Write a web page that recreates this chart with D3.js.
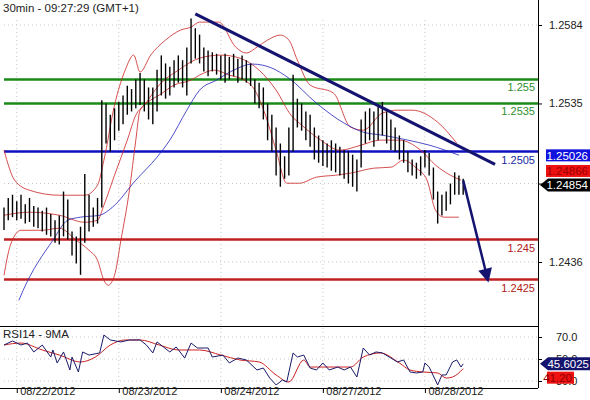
<!DOCTYPE html>
<html>
<head>
<meta charset="utf-8">
<script src="https://cdn.jsdelivr.net/npm/d3@7"></script>
<style>
  body { margin: 0; background: #fff; }
  svg { display: block; font-family: "Liberation Sans", Arial, sans-serif; }
</style>
</head>
<body>
<svg id="chart"></svg>
<script>
// hourly bars, index 0 = first bar on the left
const highs = [1.2470,1.2476,1.2478,1.2474,1.2478,1.2472,1.2476,1.2471,1.2470,1.2468,1.2470,1.2466,1.2462,1.2465,1.2480,1.2475,1.2455,1.2452,1.2458,1.2491,1.2478,1.2470,1.2476,1.2537,1.2535,1.2528,1.2532,1.2536,1.2540,1.2546,1.2544,1.2550,1.2554,1.2550,1.2545,1.2545,1.2556,1.2565,1.2560,1.2558,1.2562,1.2565,1.2562,1.2570,1.2588,1.2582,1.2578,1.2570,1.2568,1.2567,1.2566,1.2565,1.2566,1.2564,1.2566,1.2563,1.2565,1.2562,1.2560,1.2550,1.2548,1.2545,1.2535,1.2528,1.2520,1.2510,1.2502,1.2520,1.2553,1.2538,1.2535,1.2530,1.2528,1.2520,1.2515,1.2512,1.2510,1.2512,1.2510,1.2508,1.2506,1.2505,1.2503,1.2500,1.2525,1.2530,1.2532,1.2530,1.2533,1.2536,1.2530,1.2525,1.2520,1.2515,1.2512,1.2505,1.2500,1.2498,1.2502,1.2506,1.2504,1.2495,1.2480,1.2478,1.2480,1.2485,1.2492,1.2490,1.2488];
const lows  = [1.2456,1.2462,1.2464,1.2462,1.2463,1.2460,1.2461,1.2458,1.2457,1.2455,1.2453,1.2452,1.2448,1.2447,1.2452,1.2450,1.2440,1.2435,1.2428,1.2448,1.2455,1.2458,1.2460,1.2470,1.2510,1.2505,1.2512,1.2518,1.2522,1.2528,1.2530,1.2532,1.2534,1.2530,1.2525,1.2522,1.2530,1.2540,1.2538,1.2540,1.2545,1.2548,1.2545,1.2540,1.2560,1.2563,1.2560,1.2555,1.2552,1.2555,1.2553,1.2550,1.2548,1.2550,1.2552,1.2548,1.2550,1.2548,1.2546,1.2535,1.2532,1.2525,1.2512,1.2505,1.2490,1.2483,1.2488,1.2490,1.2505,1.2520,1.2518,1.2512,1.2508,1.2500,1.2498,1.2496,1.2495,1.2493,1.2492,1.2490,1.2488,1.2485,1.2483,1.2480,1.2495,1.2510,1.2512,1.2508,1.2512,1.2515,1.2510,1.2506,1.2505,1.2500,1.2498,1.2492,1.2490,1.2488,1.2490,1.2495,1.2490,1.2475,1.2460,1.2465,1.2468,1.2472,1.2478,1.2478,1.2478];

// Bollinger(20) upper / middle / lower and the long MA: [bar index, price]
const bbUpper = [[0,1.25058],[2.5,1.24871],[6,1.24808],[13,1.24777],[19,1.24777],[22,1.24840],[23.5,1.24996],[26,1.25340],[28.5,1.25558],[30.5,1.25652],[32,1.25546],[34.5,1.25652],[38,1.25746],[41.5,1.25808],[44,1.25827],[46,1.25858],[50.5,1.25858],[54.5,1.25702],[57,1.25665],[59.5,1.25702],[62,1.25746],[65,1.25777],[67,1.25746],[69,1.25621],[72,1.25465],[77.5,1.25415],[81.5,1.25202],[84.5,1.25183],[89,1.25290],[92.5,1.25308],[96,1.25308],[102,1.25233],[106.5,1.25102]];
const bbMiddle = [[0,1.24652],[6,1.24671],[13,1.24652],[19,1.24608],[22,1.24621],[23.5,1.24715],[26,1.24902],[29,1.25121],[31,1.25277],[33,1.25340],[36.5,1.25465],[41,1.25558],[46,1.25633],[51,1.25652],[55.5,1.25633],[60,1.25558],[64,1.25433],[67.5,1.25277],[70,1.25215],[74.5,1.25121],[79,1.25058],[84,1.25090],[88.5,1.25121],[93,1.25121],[98,1.25058],[101.5,1.24965],[105,1.24902],[107.5,1.24871]];
const bbLower = [[0,1.24277],[1.5,1.24465],[4,1.24558],[9,1.24558],[13,1.24571],[17,1.24496],[20,1.24433],[22,1.24371],[23.5,1.24246],[24.5,1.24215],[26,1.24277],[27.5,1.24496],[29.5,1.24808],[31,1.25121],[32,1.25308],[34.5,1.25371],[36.5,1.25402],[40,1.25465],[44,1.25496],[46,1.25527],[49.5,1.25558],[53,1.25527],[56.5,1.25496],[59,1.25433],[61.5,1.25277],[64,1.25058],[66.5,1.24852],[69.5,1.24852],[73.5,1.24890],[78,1.24902],[81.5,1.24915],[87,1.24946],[91,1.24952],[94,1.24996],[97,1.24946],[99.5,1.24871],[101.5,1.24683],[103.5,1.24640],[107,1.24640]];
const maLong = [[3.5,1.24121],[4.5,1.24183],[11.5,1.24496],[15,1.24621],[18,1.24640],[22.5,1.24652],[25.5,1.24702],[31,1.24871],[36,1.25015],[39,1.25121],[43,1.25308],[46,1.25433],[50,1.25496],[54,1.25558],[58.5,1.25596],[63,1.25571],[67,1.25508],[73.5,1.25352],[80,1.25227],[84.5,1.25171],[89,1.25152],[95,1.25121],[100,1.25090],[107,1.25027]];

// RSI14 and its 9MA: [bar index, value]
const rsi = [[0,62.7],[2,66.4],[4,62.7],[5.5,64.5],[7,56.4],[9,62.7],[11,51.8],[11.5,58.2],[12.5,46.4],[14,56.4],[15.5,40],[16,51.8],[17.5,38.2],[18.5,56.4],[20,53.6],[22.5,55.5],[23.5,71.8],[25,67.3],[27.5,65.5],[29.5,67.3],[32,67.3],[33.5,62.7],[35,55.5],[36,65.5],[37.5,60.9],[39,56.4],[40.5,60.9],[42.5,50.9],[44,64.5],[45.5,60],[48,60],[49,51.8],[51.5,53.6],[53,46.4],[55,50.9],[57,49.1],[59.5,40],[61,41.8],[62.5,32.7],[64,26.4],[65.5,30.9],[66.5,29.1],[68,55.5],[69,51.8],[70.5,53.6],[72,41.8],[73.5,40],[75,46.4],[76.5,40],[78.5,42.7],[80,40],[81.5,42.7],[83,33.6],[84.5,60],[86,53.6],[87.5,56.4],[89,55.5],[91,50.9],[92.5,47.3],[94,49.1],[95.5,38.2],[97,37.3],[98.5,38.2],[99,46.4],[100,42.7],[102,26.4],[103,35.5],[104,35.5],[105.5,47.3],[106.5,49.1],[107.5,42.7],[108,45.6]];
const rsiMa = [[0,62.7],[4,64.5],[9,58.2],[13,53.6],[18,47.3],[21.5,51.8],[25,62.7],[28.5,67.3],[32,67.3],[36.5,62.7],[41,58.2],[46,58.2],[51,53.6],[55.5,49.1],[60,47.3],[64,35.5],[67,29.1],[70.5,49.1],[72,42.7],[75,42.7],[78.5,42.7],[81.5,42.7],[84.5,51.8],[88.5,55.5],[93,46.4],[95.5,40],[98.5,38.2],[102,37.3],[104,32.7],[105.5,33.6],[108,41.2]];

const dateTicks = [3, 27, 51, 75, 99];
const dateLabels = ['08/22/2012', '08/23/2012', '08/24/2012', '08/27/2012', '08/28/2012'];
const priceTicks = [1.2584, 1.2535, 1.2485, 1.2436];
const priceTickLabels = ['1.2584', '1.2535', '', '1.2436'];
const rsiTicks = [70, 50, 30];

const levels = [
  { v: 1.2550, label: '1.255', color: '#1a8a1a', text: '#2f8f2f' },
  { v: 1.2535, label: '1.2535', color: '#1a8a1a', text: '#2f8f2f' },
  { v: 1.2505, label: '1.2505', color: '#1010c0', text: '#1a2aa0' },
  { v: 1.2450, label: '1.245', color: '#c02020', text: '#b02020' },
  { v: 1.2425, label: '1.2425', color: '#c02020', text: '#b02020' }
];
// trendline and projected arrow: [bar index, price]
const trendLine = [[45, 1.2591], [115.5, 1.2497]];
const arrowPath = [[108, 1.2487], [113.5, 1.2428]];

const badges = [
  { v: 1.25026, text: '1.25026', fill: '#1111dd', color: '#fff', shift: 0 },
  { v: 1.24866, text: '1.24866', fill: '#ee1111', color: '#a00000', shift: -10 },
  { v: 1.24854, text: '1.24854', fill: '#000', color: '#fff', shift: 2, arrow: true }
];

const width = 590, height = 400;
const plotRight = 538;
const svg = d3.select('#chart').attr('width', width).attr('height', height);

const x = d3.scaleLinear().domain([0, 125.6]).range([4, plotRight]);
const y = d3.scaleLinear().domain([1.2584, 1.2436]).range([25, 262]);
const yR = d3.scaleLinear().domain([70, 30]).range([337, 381]);

svg.append('clipPath').attr('id', 'mainClip')
  .append('rect').attr('x', 0).attr('y', 0).attr('width', plotRight).attr('height', 326);
svg.append('clipPath').attr('id', 'rsiClip')
  .append('rect').attr('x', 0).attr('y', 327).attr('width', plotRight).attr('height', 61);

// dotted grid
const grid = svg.append('g').attr('stroke', '#c8c8c8').attr('stroke-dasharray', '1,3');
grid.selectAll('.gy').data(priceTicks).join('line')
  .attr('x1', 4).attr('x2', plotRight).attr('y1', d => y(d)).attr('y2', d => y(d));
grid.selectAll('.gr').data(rsiTicks).join('line')
  .attr('x1', 4).attr('x2', plotRight).attr('y1', d => yR(d)).attr('y2', d => yR(d));
grid.selectAll('.gx').data(dateTicks).join('line')
  .attr('x1', d => x(d)).attr('x2', d => x(d)).attr('y1', 20).attr('y2', 388);

const main = svg.append('g').attr('clip-path', 'url(#mainClip)');

const line = d3.line().x(d => x(d[0])).y(d => y(d[1])).curve(d3.curveMonotoneX);
// horizontal levels
main.selectAll('.lvl').data(levels).join('line')
  .attr('x1', 4).attr('x2', plotRight)
  .attr('y1', d => y(d.v)).attr('y2', d => y(d.v))
  .attr('stroke', d => d.color).attr('stroke-width', 2.5);

[bbUpper, bbMiddle, bbLower].forEach(s => {
  main.append('path').datum(s).attr('d', line)
    .attr('fill', 'none').attr('stroke', '#cc2222').attr('stroke-width', 0.8);
});
main.append('path').datum(maLong).attr('d', line)
  .attr('fill', 'none').attr('stroke', '#2222bb').attr('stroke-width', 0.8);

// price bars
main.selectAll('.bar').data(highs).join('line')
  .attr('x1', (d, i) => x(i)).attr('x2', (d, i) => x(i))
  .attr('y1', d => y(d)).attr('y2', (d, i) => y(lows[i]))
  .attr('stroke', '#000').attr('stroke-width', 1.4);

// trendline and arrow
main.append('path').datum(trendLine).attr('d', d3.line().x(d => x(d[0])).y(d => y(d[1])))
  .attr('stroke', '#141470').attr('stroke-width', 3);
main.append('path').datum(arrowPath).attr('d', d3.line().x(d => x(d[0])).y(d => y(d[1])))
  .attr('stroke', '#141470').attr('stroke-width', 2.5);
{
  const [a, b] = arrowPath;
  const x1 = x(a[0]), y1 = y(a[1]), x2 = x(b[0]), y2 = y(b[1]);
  const ang = Math.atan2(y2 - y1, x2 - x1);
  const L = 14, W = 7;
  const tip = [x2 + Math.cos(ang) * 8, y2 + Math.sin(ang) * 8];
  const bx = tip[0] - Math.cos(ang) * L, by = tip[1] - Math.sin(ang) * L;
  main.append('path')
    .attr('d', `M${tip}L${bx - Math.sin(ang) * W},${by + Math.cos(ang) * W}L${bx + Math.sin(ang) * W},${by - Math.cos(ang) * W}Z`)
    .attr('fill', '#141470');
}

// level labels
svg.selectAll('.lvlText').data(levels).join('text')
  .attr('x', 535).attr('y', d => y(d.v) + 12)
  .attr('text-anchor', 'end').attr('font-size', 11)
  .attr('fill', d => d.text).text(d => d.label);

// RSI panel
const rsiG = svg.append('g').attr('clip-path', 'url(#rsiClip)');
rsiG.append('path').datum(rsiMa).attr('d', d3.line().x(d => x(d[0])).y(d => yR(d[1])).curve(d3.curveMonotoneX))
  .attr('fill', 'none').attr('stroke', '#cc2222').attr('stroke-width', 1);
rsiG.append('path').datum(rsi).attr('d', d3.line().x(d => x(d[0])).y(d => yR(d[1])))
  .attr('fill', 'none').attr('stroke', '#1a1a6a').attr('stroke-width', 1);

// frame
const frame = svg.append('g').attr('stroke', '#000').attr('stroke-width', 1);
frame.append('line').attr('x1', plotRight + 0.5).attr('x2', plotRight + 0.5).attr('y1', 0).attr('y2', 388);
frame.append('line').attr('x1', 0).attr('x2', plotRight).attr('y1', 326.5).attr('y2', 326.5);
frame.append('line').attr('x1', 0).attr('x2', plotRight).attr('y1', 388.5).attr('y2', 388.5);

// right axes
svg.append('g').attr('transform', `translate(${plotRight},0)`)
  .call(d3.axisRight(y).tickValues(priceTicks).tickSize(4).tickFormat((d, i) => priceTickLabels[i]))
  .call(g => g.select('.domain').remove())
  .call(g => g.selectAll('text').attr('font-size', 11).attr('fill', '#222').attr('x', 11)
    .attr('font-family', '"Liberation Sans", Arial, sans-serif'));
svg.append('g').attr('transform', `translate(${plotRight},0)`)
  .call(d3.axisRight(yR).tickValues(rsiTicks).tickSize(4).tickFormat(d3.format('.1f')))
  .call(g => g.select('.domain').remove())
  .call(g => g.selectAll('text').attr('font-size', 11).attr('fill', '#222').attr('x', 18)
    .attr('font-family', '"Liberation Sans", Arial, sans-serif'));

// bottom date axis
svg.append('g').attr('transform', 'translate(0,388)')
  .call(d3.axisBottom(x).tickValues(dateTicks).tickSize(5).tickFormat((d, i) => dateLabels[i]))
  .call(g => g.select('.domain').remove())
  .call(g => g.selectAll('text').attr('font-size', 11).attr('fill', '#222')
    .attr('text-anchor', 'start').attr('dx', 3).attr('dy', 0).attr('y', 7)
    .attr('font-family', '"Liberation Sans", Arial, sans-serif'));

// price badges
badges.forEach(b => {
  const cy = y(b.v) + b.shift;
  const g = svg.append('g');
  if (b.arrow) {
    g.append('path').attr('d', `M540,${cy}L548,${cy - 6.5}L590,${cy - 6.5}L590,${cy + 6.5}L548,${cy + 6.5}Z`).attr('fill', b.fill);
  } else {
    g.append('rect').attr('x', 546).attr('y', cy - 6).attr('width', 44).attr('height', 12).attr('fill', b.fill);
  }
  g.append('text').attr('x', 588).attr('y', cy + 4.5).attr('text-anchor', 'end')
    .attr('font-size', 11.5).attr('fill', b.color).text(b.text);
});
// RSI badges
{
  const last = rsi[rsi.length - 1][1], lastMa = rsiMa[rsiMa.length - 1][1];
  const cy = yR(last);
  svg.append('path').attr('d', `M540,${cy}L548,${cy - 6.5}L590,${cy - 6.5}L590,${cy + 6.5}L548,${cy + 6.5}Z`).attr('fill', '#14146e');
  svg.append('text').attr('x', 589).attr('y', cy + 4.5).attr('text-anchor', 'end')
    .attr('font-size', 11.5).attr('fill', '#fff').text('45.6025');
  const cm = yR(lastMa) + 9;
  svg.append('rect').attr('x', 547).attr('y', cm - 6).attr('width', 27).attr('height', 12).attr('fill', '#ee1111');
  svg.append('text').attr('x', 572).attr('y', cm + 4.5).attr('text-anchor', 'end')
    .attr('font-size', 11.5).attr('fill', '#900000').text(d3.format('.2f')(lastMa));
}

// titles
svg.append('text').attr('x', 3).attr('y', 12).attr('font-size', 11.5).attr('fill', '#222')
  .text('30min - 09:27:29 (GMT+1)');
svg.append('text').attr('x', 3).attr('y', 338).attr('font-size', 11.5).attr('fill', '#222')
  .text('RSI14 - 9MA');
</script>
</body>
</html>
